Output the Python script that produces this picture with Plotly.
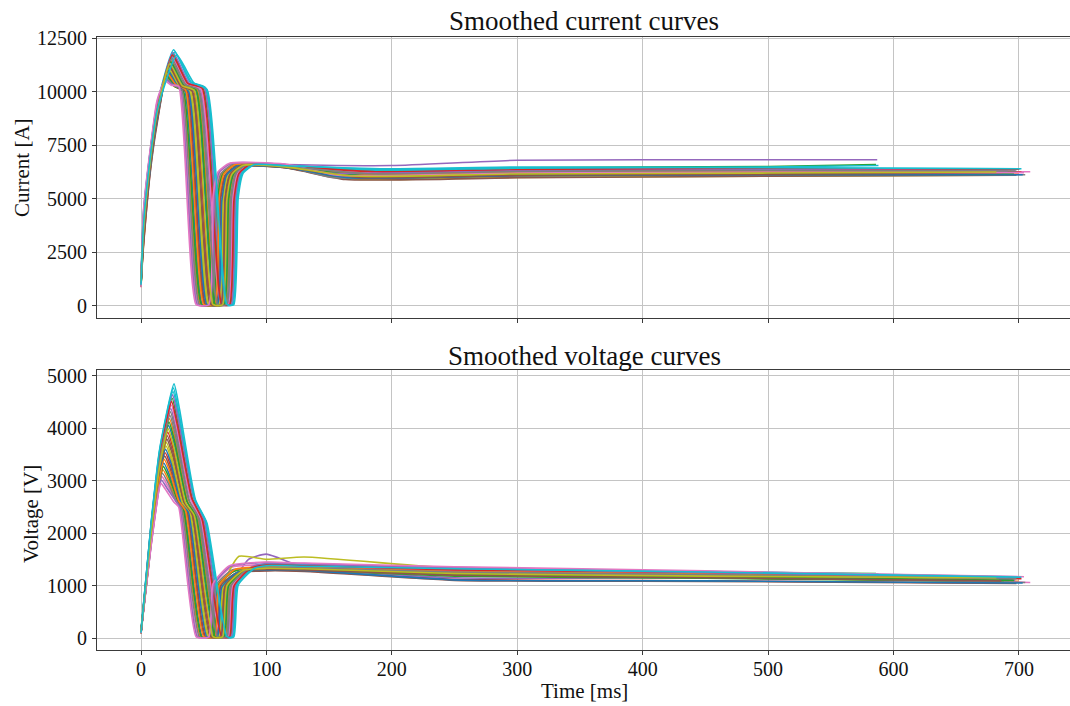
import plotly.graph_objects as go

# ---------------------------------------------------------------------------
# Per-shot key points of the smoothed current and voltage recordings.
# Every list holds one value per shot (30 shots); times in ms.
# ---------------------------------------------------------------------------
TAB10 = ["#1f77b4", "#ff7f0e", "#2ca02c", "#d62728", "#9467bd",
         "#8c564b", "#e377c2", "#7f7f7f", "#bcbd22", "#17becf"]

# shared event times (same shot in both panels)
t_drop = [43.3, 33.1, 49.5, 37.0, 47.2, 40.1, 31.5, 46.3, 38.5, 51.0, 34.6, 44.8, 33.9, 41.7, 50.2,
          36.2, 47.9, 32.4, 39.4, 51.8, 37.8, 35.5, 44.0, 48.7, 30.8, 40.9, 30.0, 45.6, 42.4, 52.6]
t_zero = [58.5, 47.4, 65.3, 51.6, 62.7, 55.0, 45.6, 61.8, 53.3, 66.9, 49.0, 60.1, 48.3, 56.8, 66.0,
          50.8, 63.5, 46.6, 54.2, 67.8, 52.5, 50.0, 59.3, 64.4, 44.9, 55.9, 44.0, 61.0, 57.5, 68.6]
t_up = [65.7, 56.8, 71.3, 60.2, 69.2, 63.0, 55.4, 68.5, 61.6, 72.6, 58.1, 67.1, 57.5, 64.4, 71.9,
        59.5, 69.9, 56.1, 62.3, 73.3, 60.9, 58.8, 66.4, 70.6, 54.7, 63.7, 54.0, 67.8, 65.0, 74.0]
t_mid = [69.2, 60.3, 74.8, 63.7, 72.7, 66.5, 58.9, 72.0, 65.1, 76.1, 61.6, 70.6, 61.0, 67.9, 75.4,
         63.0, 73.4, 59.6, 65.8, 76.8, 64.4, 62.3, 69.9, 74.1, 58.2, 67.2, 57.5, 71.3, 68.5, 77.5]
t_bend = [73.2, 64.3, 78.8, 67.7, 76.7, 70.5, 62.9, 76.0, 69.1, 80.1, 65.6, 74.6, 65.0, 71.9, 79.4,
          67.0, 77.4, 63.6, 69.8, 80.8, 68.4, 66.3, 73.9, 78.1, 62.2, 71.2, 61.5, 75.3, 72.5, 81.5]
t_back = [82.2, 73.3, 87.8, 76.7, 85.7, 79.5, 71.9, 85.0, 78.1, 89.1, 74.6, 83.6, 74.0, 80.9, 88.4,
          76.0, 86.4, 72.6, 78.8, 89.8, 77.4, 75.3, 82.9, 87.1, 71.2, 80.2, 70.5, 84.3, 81.5, 90.5]
t_end = [695, 700, 586, 690, 697, 683, 709, 701, 681, 699, 692, 694, 688, 702, 587,
         698, 693, 705, 684, 588, 703, 689, 696, 700, 691, 686, 704, 698, 682, 702]

# ---- current [A] ----
rise_t = [0, 2, 7.5, 12.8]
i_0 = [1000, 1150, 900, 1250, 950, 1100, 1200, 1050, 980, 1300, 1120, 880, 1050, 1180, 930,
       1000, 1220, 1080, 960, 1150, 1020, 1250, 900, 1100, 1180, 1000, 870, 1060, 1140, 990]
i_2 = [3600, 3200, 3900, 2900, 4200, 3500, 3800, 3300, 3000, 4400, 3700, 3100, 3400, 3800, 4100,
       2800, 3600, 3300, 3500, 4000, 3200, 3900, 3400, 3700, 4300, 3000, 4500, 3600, 3500, 3800]
i_7 = [6900, 6700, 7100, 6400, 7200, 6800, 7000, 6900, 6500, 7300, 6800, 6600, 6700, 7000, 7100,
       6300, 7000, 6900, 6600, 7200, 6500, 7100, 6800, 6900, 7300, 6600, 7400, 6900, 6800, 7000]
i_13 = [9100, 9000, 9200, 8600, 9300, 9000, 9400, 9100, 8700, 9400, 9100, 8900, 9000, 9200, 9200,
        8500, 9200, 9200, 8800, 9300, 8700, 9300, 9000, 9100, 9500, 8800, 9600, 9100, 9000, 9100]
t_ipk = [23.3, 20.0, 25.3, 21.3, 24.5, 22.3, 19.5, 24.3, 21.8, 26.0, 20.5, 23.8, 20.3, 22.8, 25.5,
         21.0, 24.8, 19.8, 22.0, 27.0, 21.5, 20.8, 23.5, 25.0, 19.3, 22.5, 19.0, 24.0, 23.0, 28.5]
i_pk = [11360, 10720, 11760, 10960, 11600, 11160, 10600, 11560, 11040, 11950, 10800, 11440, 10740, 11240, 11820,
        10900, 11640, 10640, 11100, 11850, 11000, 10850, 11400, 11700, 10560, 11200, 10500, 11500, 11300, 11700]
t_ish = [33.4, 26.2, 37.8, 29.0, 36.1, 31.2, 25.1, 35.6, 30.1, 39.1, 27.3, 34.5, 26.8, 32.3, 38.3,
         28.4, 36.7, 25.7, 30.6, 40.4, 29.5, 27.9, 33.9, 37.2, 24.6, 31.7, 24.0, 35.0, 32.8, 42.2]
i_ish = [10300, 10250, 10350, 10200, 10400, 10280, 10320, 10380, 10220, 10450, 10260, 10330, 10240, 10300, 10400,
         10210, 10360, 10290, 10270, 10420, 10230, 10310, 10350, 10380, 10340, 10260, 10300, 10320, 10280, 10400]
i_drop = [10100, 10050, 10150, 10000, 10120, 10080, 10150, 10050, 10020, 10200, 10100, 10060, 10000, 10130, 10180,
          9980, 10100, 10120, 10040, 10150, 10010, 10090, 10070, 10160, 10200, 10030, 10250, 10110, 10060, 10100]
i_floor = 60
i_mid = [5000, 4900, 5100, 5050, 4950, 5000, 5150, 4900, 5000, 5100, 4950, 5050, 5000, 4900, 5100,
         5000, 5050, 4950, 5000, 5100, 4900, 5050, 5000, 4950, 5100, 5000, 5150, 4950, 5000, 5050]
i_bend = [6180, 6150, 6200, 6120, 6220, 6160, 6250, 6140, 6180, 6200, 6150, 6190, 6130, 6170, 6230,
          6110, 6200, 6160, 6140, 6210, 6120, 6180, 6150, 6190, 6240, 6160, 6260, 6170, 6150, 6200]
i_back = [6600, 6550, 6620, 6520, 6600, 6580, 6640, 6560, 6540, 6630, 6570, 6600, 6550, 6580, 6650,
          6530, 6610, 6590, 6560, 6620, 6540, 6600, 6570, 6610, 6650, 6560, 6660, 6590, 6570, 6600]
i_115 = [6520, 6480, 6560, 6450, 6540, 6500, 6580, 6490, 6470, 6570, 6510, 6530, 6460, 6500, 6600,
         6450, 6550, 6520, 6480, 6560, 6460, 6540, 6500, 6530, 6600, 6470, 6620, 6510, 6490, 6540]
t_dip = [175, 160, 190, 170, 185, 165, 155, 180, 172, 195, 168, 182, 158, 176, 200,
         163, 188, 152, 178, 192, 166, 171, 184, 187, 150, 174, 157, 181, 169, 196]
i_dip = [6100, 6000, 6300, 5950, 6200, 6050, 6150, 6250, 5920, 6350, 6080, 6180, 6020, 6120, 6550,
         5900, 6220, 6000, 6100, 6300, 5980, 6150, 6050, 6260, 6200, 6000, 6100, 6170, 6060, 6400]
i_300 = [6200, 6100, 6450, 6050, 6300, 6150, 6250, 6350, 6000, 6450, 6180, 6280, 6120, 6220, 6800,
         5980, 6320, 6100, 6200, 6400, 6080, 6250, 6150, 6350, 6300, 6100, 6200, 6270, 6160, 6480]
i_500 = [6250, 6150, 6500, 6100, 6350, 6200, 6300, 6400, 6050, 6450, 6230, 6330, 6170, 6270, 6820,
         6050, 6380, 6150, 6250, 6480, 6120, 6300, 6200, 6400, 6350, 6150, 6250, 6320, 6200, 6450]
i_end = [6250, 6150, 6600, 6100, 6350, 6250, 6260, 6400, 6100, 6400, 6200, 6300, 6200, 6250, 6820,
         6100, 6350, 6120, 6300, 6550, 6120, 6300, 6180, 6380, 6300, 6200, 6220, 6300, 6250, 6400]

# ---- voltage [V] ----
v_0 = [100, 120, 90, 140, 110, 100, 130, 95, 105, 150, 115, 90, 125, 100, 110,
       85, 135, 120, 100, 140, 95, 110, 130, 105, 120, 100, 90, 115, 125, 100]
v_8 = [2005, 1810, 2125, 1885, 2080, 1945, 1780, 2065, 1915, 2155, 1840, 2035, 1825, 1975, 2140,
       1870, 2095, 1795, 1930, 2170, 1900, 1855, 2020, 2110, 1765, 1960, 1750, 2050, 1990, 2185]
v_15 = [3325, 3000, 3525, 3125, 3450, 3225, 2950, 3425, 3175, 3575, 3050, 3375, 3025, 3275, 3550,
        3100, 3475, 2975, 3200, 3600, 3150, 3075, 3350, 3500, 2925, 3250, 2900, 3400, 3300, 3625]
t_vpk = [22.0, 17.4, 24.8, 19.2, 23.7, 20.6, 16.7, 23.4, 19.9, 25.5, 18.1, 22.7, 17.8, 21.3, 25.1,
         18.8, 24.1, 17.1, 20.2, 25.8, 19.5, 18.5, 22.3, 24.4, 16.4, 20.9, 16.0, 23.0, 21.6, 26.3]
v_pk = [4055, 3210, 4575, 3535, 4380, 3795, 3080, 4315, 3665, 4705, 3340, 4185, 3275, 3925, 4640,
        3470, 4445, 3145, 3730, 4770, 3600, 3405, 4120, 4510, 3015, 3860, 2950, 4250, 3990, 4850]
t_va = [26.5, 21.9, 29.3, 23.7, 28.2, 25.1, 21.2, 27.9, 24.4, 30.0, 22.6, 27.2, 22.3, 25.8, 29.6,
        23.3, 28.6, 21.6, 24.7, 30.3, 24.0, 23.0, 26.8, 28.9, 20.9, 25.4, 20.5, 27.5, 26.1, 30.8]
v_a = [3701, 3012, 4125, 3277, 3966, 3489, 2906, 3913, 3383, 4231, 3118, 3807, 3065, 3595, 4178,
       3224, 4019, 2959, 3436, 4284, 3330, 3171, 3754, 4072, 2853, 3542, 2800, 3860, 3648, 4352]
t_vk = [36.2, 28.4, 41.0, 31.4, 39.2, 33.8, 27.2, 38.6, 32.6, 42.2, 29.6, 37.4, 29.0, 35.0, 41.6,
        30.8, 39.8, 27.8, 33.2, 42.8, 32.0, 30.2, 36.8, 40.4, 26.6, 34.4, 26.0, 38.0, 35.6, 43.4]
v_vk = [2620, 2600, 2650, 2580, 2680, 2600, 2640, 2620, 2560, 2660, 2610, 2590, 2630, 2570, 2700,
        2550, 2640, 2620, 2580, 2650, 2560, 2610, 2600, 2670, 2650, 2590, 2600, 2630, 2580, 2640]
v_drop = [2330, 2460, 2250, 2410, 2280, 2370, 2480, 2290, 2390, 2230, 2440, 2310, 2450, 2350, 2240,
          2420, 2270, 2470, 2380, 2220, 2400, 2430, 2320, 2260, 2490, 2360, 2500, 2300, 2340, 2190]
v_floor = 20
v_mid = [1000, 980, 1020, 990, 1010, 1000, 1030, 970, 1000, 1020, 990, 1010, 980, 1000, 1020,
         990, 1010, 1000, 980, 1030, 970, 1010, 1000, 990, 1020, 1000, 1040, 990, 1000, 1010]
v_back = [1300, 1280, 1330, 1250, 1500, 1290, 1350, 1310, 1560, 1340, 1290, 1320, 1270, 1300, 1360,
          1240, 1320, 1300, 1280, 1340, 1260, 1310, 1290, 1330, 1370, 1270, 1380, 1300, 1290, 1330]
tail_vt = [100, 130, 250, 450]
v_100 = [1340, 1320, 1380, 1290, 1600, 1330, 1400, 1360, 1500, 1390, 1330, 1370, 1310, 1350, 1420,
         1280, 1370, 1340, 1320, 1400, 1300, 1360, 1330, 1390, 1440, 1310, 1450, 1350, 1330, 1380]
v_130 = [1330, 1300, 1370, 1280, 1350, 1320, 1380, 1350, 1545, 1380, 1320, 1350, 1300, 1340, 1400,
         1270, 1360, 1330, 1300, 1390, 1290, 1350, 1320, 1380, 1420, 1300, 1430, 1340, 1320, 1370]
v_250 = [1250, 1200, 1300, 1120, 1150, 1240, 1290, 1270, 1330, 1320, 1230, 1280, 1180, 1260, 1350,
         1100, 1280, 1240, 1210, 1330, 1110, 1270, 1220, 1300, 1330, 1200, 1360, 1260, 1230, 1320]
v_450 = [1200, 1150, 1250, 1090, 1150, 1190, 1220, 1220, 1260, 1270, 1180, 1230, 1140, 1210, 1260,
         1080, 1230, 1190, 1170, 1270, 1090, 1220, 1170, 1250, 1250, 1150, 1280, 1210, 1180, 1260]
v_end = [1120, 1080, 1230, 1050, 1100, 1130, 1060, 1150, 1170, 1170, 1100, 1150, 1080, 1130, 1200,
         1040, 1150, 1060, 1120, 1220, 1050, 1140, 1100, 1160, 1150, 1090, 1170, 1130, 1150, 1160]

x_ticks = [0, 100, 200, 300, 400, 500, 600, 700]
i_ticks = [0, 2500, 5000, 7500, 10000, 12500]
v_ticks = [0, 1000, 2000, 3000, 4000, 5000]

FONT = "Liberation Serif"
TEXT_COLOR = "#111111"
AXIS_COLOR = "#3a3a3a"
GRID_COLOR = "#c4c4c4"
LINE = dict(width=1.6, shape="spline", smoothing=0.5)

fig = go.Figure()

for k in range(len(t_drop)):
    color = TAB10[k % 10]
    cur_t = rise_t + [t_ipk[k], t_ish[k], t_drop[k], t_zero[k], t_up[k], t_mid[k],
                      t_bend[k], t_back[k], 115, t_dip[k], 300, 500, t_end[k]]
    cur_y = [i_0[k], i_2[k], i_7[k], i_13[k], i_pk[k], i_ish[k], i_drop[k], i_floor, i_floor,
             i_mid[k], i_bend[k], i_back[k], i_115[k], i_dip[k], i_300[k], i_500[k], i_end[k]]
    fig.add_trace(go.Scatter(x=cur_t, y=cur_y, mode="lines", xaxis="x", yaxis="y",
                             line=dict(LINE, color=color), showlegend=False,
                             hoverinfo="skip"))

for k in range(len(t_drop)):
    color = TAB10[k % 10]
    vol_t = [0, 8, 15, t_vpk[k], t_va[k], t_vk[k], t_drop[k], t_zero[k], t_up[k], t_mid[k],
             t_back[k]] + tail_vt + [t_end[k]]
    vol_y = [v_0[k], v_8[k], v_15[k], v_pk[k], v_a[k], v_vk[k], v_drop[k], v_floor, v_floor,
             v_mid[k], v_back[k], v_100[k], v_130[k], v_250[k], v_450[k], v_end[k]]
    fig.add_trace(go.Scatter(x=vol_t, y=vol_y, mode="lines", xaxis="x2", yaxis="y2",
                             line=dict(LINE, color=color), showlegend=False,
                             hoverinfo="skip"))

tick_font = dict(family=FONT, size=20, color=TEXT_COLOR)
common_x = dict(range=[-35.1, 740.7], tickmode="array", tickvals=x_ticks,
                showgrid=True, gridcolor=GRID_COLOR, gridwidth=1, zeroline=False,
                showline=True, linecolor=AXIS_COLOR, linewidth=1.2, mirror=True,
                ticks="outside", ticklen=4, tickcolor=AXIS_COLOR, tickwidth=1,
                tickfont=tick_font)
common_y = dict(showgrid=True, gridcolor=GRID_COLOR, gridwidth=1, zeroline=False,
                showline=True, linecolor=AXIS_COLOR, linewidth=1.2, mirror=False,
                ticks="outside", ticklen=4, tickcolor=AXIS_COLOR, tickwidth=1,
                tickfont=tick_font, tickmode="array", tickformat="d",
                ticklabelstandoff=1)

PLOT_L, PLOT_R, PLOT_T, PLOT_B = 97, 1070, 37, 650


def px(xp):
    return (xp - PLOT_L) / (PLOT_R - PLOT_L)


def py(yp):
    return (PLOT_B - yp) / (PLOT_B - PLOT_T)


def label(text, x, y, size=20, angle=0):
    return dict(text=text, x=px(x), y=py(y), xref="paper", yref="paper",
                textangle=angle, showarrow=False,
                font=dict(family=FONT, size=size, color=TEXT_COLOR),
                xanchor="center", yanchor="middle")


fig.update_layout(
    width=1070, height=706,
    margin=dict(l=PLOT_L, r=1070 - PLOT_R, t=PLOT_T, b=706 - PLOT_B),
    paper_bgcolor="white", plot_bgcolor="white",
    xaxis=dict(common_x, domain=[0, 1], anchor="y", showticklabels=False),
    yaxis=dict(common_y, domain=[py(318), 1], anchor="x", range=[-560, 12547],
               tickvals=i_ticks),
    xaxis2=dict(common_x, domain=[0, 1], anchor="y2", matches="x",
                ticklabelstandoff=-3),
    yaxis2=dict(common_y, domain=[0, py(370)], anchor="x2", range=[-229, 5114],
                tickvals=v_ticks),
    annotations=[
        label("Smoothed current curves", 584, 21, size=27),
        label("Smoothed voltage curves", 584, 356, size=27),
        label("Current [A]", 22, 168, size=21, angle=-90),
        label("Voltage [V]", 31, 514, size=21, angle=-90),
        label("Time [ms]", 584, 691, size=21),
    ],
)

fig.write_html("out.html")
